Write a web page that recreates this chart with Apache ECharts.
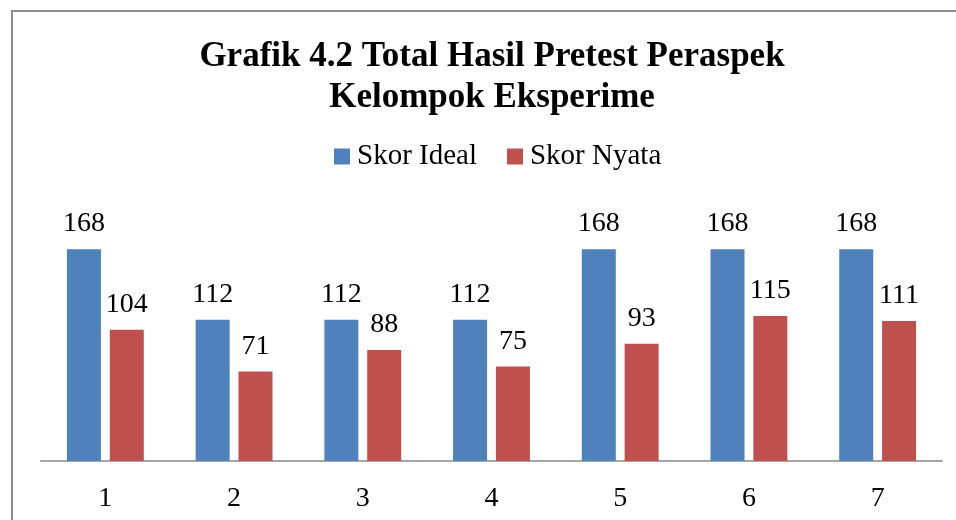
<!DOCTYPE html>
<html>
<head>
<meta charset="utf-8">
<script src="https://cdn.jsdelivr.net/npm/echarts@6/dist/echarts.min.js"></script>
<style>
	html, body { margin: 0; padding: 0; background: #fff; }
	#report_chart { width: 956px; height: 520px; }
</style>
</head>
<body>
<div id="report_chart"></div>
<script>
var categories = ['1', '2', '3', '4', '5', '6', '7'];
var skorIdeal = [168, 112, 112, 112, 168, 168, 168];
var skorNyata = [104, 71, 88, 75, 93, 115, 111];

var serif = "'Liberation Serif', 'Times New Roman', serif";

function initChart() {
	var option_bar = {
		backgroundColor : '#fff',
		animation : false,
		title : {
			text : "Grafik 4.2 Total Hasil Pretest Peraspek\nKelompok Eksperime",
			left : 492,
			textAlign : 'center',
			top : 36,
			padding : 0,
			textStyle : {
				color : '#000',
				fontFamily : serif,
				fontSize : 35,
				fontWeight : 'bold',
				lineHeight : 41
			}
		},
		legend : {
			top : 142,
			left : 334,
			padding : 0,
			itemWidth : 16,
			itemHeight : 16,
			itemGap : 30,
			icon : 'rect',
			textStyle : {
				color : '#000',
				fontFamily : serif,
				fontSize : 29,
				padding : [0, 0, 0, 2]
			},
			data : ['Skor Ideal', 'Skor Nyata']
		},
		graphic : [ {
			type : 'rect',
			silent : true,
			shape : { x : 12, y : 11, width : 2000, height : 2000 },
			style : { fill : 'none', stroke : '#8c8c8c', lineWidth : 2 }
		} ],
		grid : {
			left : 41,
			right : 14,
			top : 234,
			bottom : 59
		},
		xAxis : [ {
			type : 'category',
			data : categories,
			axisTick : { show : false },
			axisLine : { lineStyle : { color : '#a6a6a6', width : 2 } },
			axisLabel : {
				color : '#000',
				fontFamily : serif,
				fontSize : 28,
				margin : 24
			}
		} ],
		yAxis : [ {
			type : 'value',
			min : 0,
			max : 180,
			show : false,
			splitLine : { show : false }
		} ],
		series : [ {
			name : 'Skor Ideal',
			type : 'bar',
			barWidth : 34,
			barGap : '26%',
			itemStyle : { color : '#4F81BD' },
			label : {
				show : true,
				position : 'top',
				distance : 11,
				color : '#000',
				fontFamily : serif,
				fontSize : 28
			},
			data : skorIdeal
		}, {
			name : 'Skor Nyata',
			type : 'bar',
			barWidth : 34,
			itemStyle : { color : '#C0504D' },
			label : {
				show : true,
				position : 'top',
				distance : 11,
				color : '#000',
				fontFamily : serif,
				fontSize : 28
			},
			data : skorNyata
		} ]
	};

	var myChart = echarts.init(document.getElementById('report_chart'));
	myChart.setOption(option_bar);
	window.myChart = myChart;
}
initChart();
</script>
</body>
</html>
